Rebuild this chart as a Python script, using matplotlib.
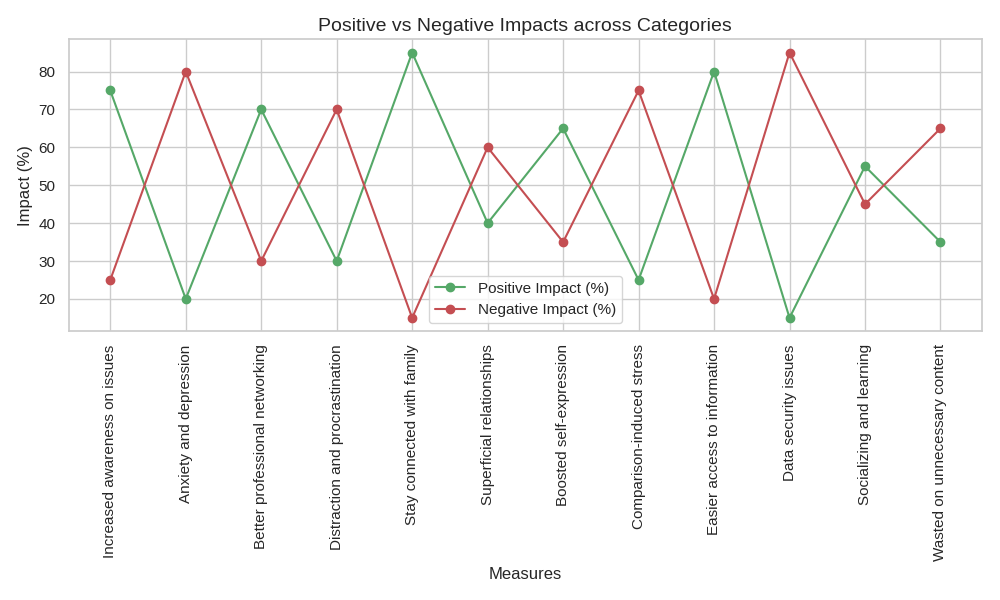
import matplotlib
matplotlib.use("Agg")
import matplotlib.pyplot as plt
import seaborn as sns

categories = [
    "Increased awareness on issues",
    "Anxiety and depression",
    "Better professional networking",
    "Distraction and procrastination",
    "Stay connected with family",
    "Superficial relationships",
    "Boosted self-expression",
    "Comparison-induced stress",
    "Easier access to information",
    "Data security issues",
    "Socializing and learning",
    "Wasted on unnecessary content",
]
positive = [75, 20, 70, 30, 85, 40, 65, 25, 80, 15, 55, 35]
negative = [25, 80, 30, 70, 15, 60, 35, 75, 20, 85, 45, 65]

sns.set_theme(style="whitegrid", color_codes=True)
plt.rcParams["font.family"] = ["Liberation Sans", "DejaVu Sans"]

fig, ax = plt.subplots(figsize=(10, 6), dpi=100)
ax.plot(categories, positive, marker="o", color="g", label="Positive Impact (%)")
ax.plot(categories, negative, marker="o", color="r", label="Negative Impact (%)")
ax.set_title("Positive vs Negative Impacts across Categories", fontsize=14)
ax.set_xlabel("Measures", fontsize=12)
ax.set_ylabel("Impact (%)", fontsize=12)
ax.tick_params(axis="x", rotation=90)
ax.legend(loc="lower center")
fig.tight_layout()
fig.savefig("out.png")
